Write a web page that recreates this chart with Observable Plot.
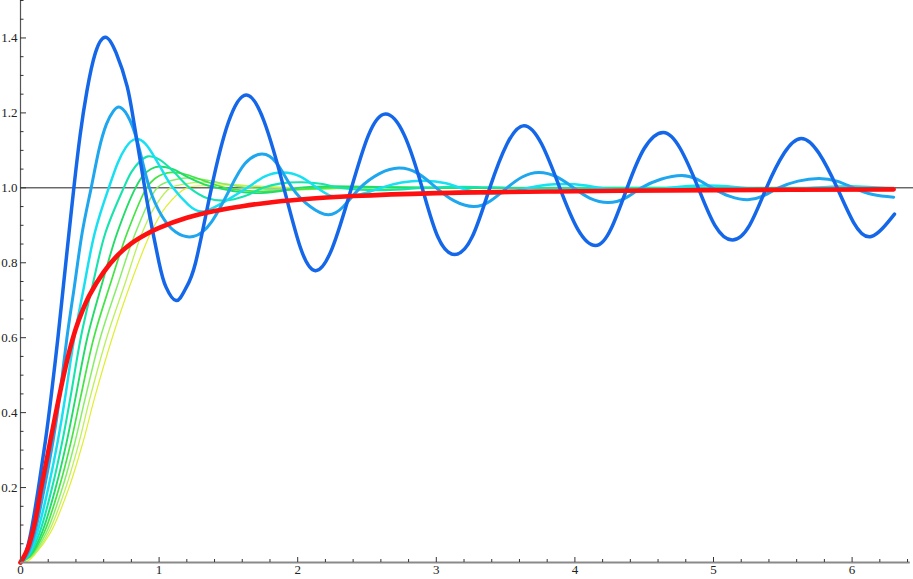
<!DOCTYPE html>
<html>
<head>
<meta charset="utf-8">
<script src="https://cdn.jsdelivr.net/npm/d3@7"></script>
<script src="https://cdn.jsdelivr.net/npm/@observablehq/plot@0.6"></script>
<style>
  html, body { margin: 0; padding: 0; background: #fff; }
  #chart { width: 913px; height: 579px; }
  #chart svg text { font-family: 'Liberation Serif', 'DejaVu Serif', serif; font-size: 13px; }
</style>
</head>
<body>
<div id="chart"></div>
<script>
// ---- Data: step responses, [t, y] pairs ----
const darkBlue = [[0,0],[0.033,0.02],[0.075,0.08],[0.13,0.2],[0.18,0.325],[0.22,0.44],[0.27,0.6],[0.31,0.74],[0.35,0.88],[0.385,1.0],[0.43,1.14],[0.48,1.26],[0.54,1.36],[0.613,1.402],[0.69,1.36],[0.77,1.27],[0.82,1.17],[0.87,1.06],[0.92,0.95],[1.0,0.8],[1.05,0.735],[1.123,0.699],[1.19,0.73],[1.263,0.8],[1.378,1.0],[1.5,1.175],[1.628,1.248],[1.76,1.175],[1.9,1.0],[2.02,0.84],[2.128,0.779],[2.25,0.84],[2.388,1.0],[2.51,1.14],[2.633,1.197],[2.77,1.14],[2.898,1.0],[3.01,0.87],[3.131,0.822],[3.26,0.87],[3.386,1.0],[3.51,1.117],[3.632,1.166],[3.76,1.117],[3.891,1.0],[4.02,0.89],[4.149,0.846],[4.26,0.89],[4.377,1.0],[4.5,1.105],[4.637,1.148],[4.76,1.105],[4.89,1.0],[5.01,0.9],[5.135,0.861],[5.26,0.9],[5.382,1.0],[5.51,1.093],[5.633,1.132],[5.76,1.093],[5.892,1.0],[6.01,0.908],[6.138,0.87],[6.306,0.93]];
const midBlue = [[0,0],[0.046,0.02],[0.103,0.08],[0.173,0.2],[0.233,0.32],[0.282,0.44],[0.335,0.6],[0.39,0.74],[0.445,0.88],[0.51,1.0],[0.565,1.1],[0.62,1.17],[0.67,1.205],[0.72,1.215],[0.79,1.18],[0.86,1.1],[0.93,1.0],[1.02,0.925],[1.12,0.882],[1.246,0.87],[1.38,0.91],[1.515,1.0],[1.62,1.065],[1.74,1.09],[1.85,1.065],[1.96,1.0],[2.09,0.95],[2.22,0.928],[2.33,0.95],[2.45,1.0],[2.59,1.038],[2.73,1.053],[2.87,1.038],[3.0,1.0],[3.13,0.965],[3.27,0.95],[3.39,0.965],[3.51,1.0],[3.62,1.029],[3.74,1.041],[3.87,1.029],[3.99,1.0],[4.11,0.972],[4.24,0.961],[4.36,0.972],[4.48,1.0],[4.62,1.023],[4.77,1.033],[4.88,1.023],[4.99,1.0],[5.12,0.977],[5.245,0.968],[5.35,0.977],[5.47,1.0],[5.61,1.018],[5.76,1.025],[5.89,1.018],[6.01,1.0],[6.15,0.982],[6.3,0.975]];
const cyan = [[0,0],[0.055,0.02],[0.121,0.08],[0.201,0.2],[0.267,0.32],[0.322,0.44],[0.388,0.6],[0.46,0.74],[0.536,0.88],[0.637,1.0],[0.7,1.065],[0.76,1.108],[0.828,1.13],[0.9,1.118],[0.97,1.08],[1.04,1.035],[1.1,1.0],[1.21,0.955],[1.323,0.937],[1.48,0.965],[1.636,1.0],[1.76,1.03],[1.89,1.041],[2.02,1.03],[2.14,1.0],[2.23,0.98],[2.32,0.975],[2.45,0.982],[2.6,1.0],[2.75,1.014],[2.91,1.019],[3.07,1.012],[3.17,1.0],[3.3,0.988],[3.42,0.985],[3.55,0.99],[3.67,1.0],[3.8,1.008],[3.93,1.01],[4.06,1.007],[4.18,1.0],[4.31,0.993],[4.44,0.991],[4.57,0.994],[4.69,1.0],[4.82,1.005],[4.95,1.006],[5.1,1.004],[5.2,1.0],[5.33,0.996],[5.46,0.995],[5.6,0.997],[5.72,1.0],[5.85,1.003],[5.98,1.004],[6.12,1.002],[6.3,0.998]];
const teal = [[0,0],[0.063,0.02],[0.138,0.08],[0.228,0.2],[0.3,0.32],[0.36,0.44],[0.435,0.6],[0.52,0.74],[0.613,0.88],[0.745,1.0],[0.8,1.042],[0.86,1.07],[0.92,1.084],[1.0,1.076],[1.1,1.045],[1.22,1.0],[1.35,0.972],[1.48,0.966],[1.62,0.978],[1.75,1.0],[1.88,1.012],[2.03,1.015],[2.18,1.01],[2.3,1.0],[2.45,0.995],[2.6,0.994],[2.75,0.996],[2.9,1.0],[3.2,1.003],[3.6,0.999],[4.2,1.0],[6.3,1.0]];
const green1 = [[0,0],[0.071,0.02],[0.155,0.08],[0.254,0.2],[0.332,0.32],[0.397,0.44],[0.482,0.6],[0.585,0.74],[0.698,0.88],[0.83,1.0],[0.89,1.035],[0.945,1.051],[1.0,1.057],[1.1,1.05],[1.2,1.03],[1.32,1.01],[1.42,1.0],[1.56,0.99],[1.7,0.986],[1.85,0.99],[2.0,1.0],[2.2,1.004],[2.5,1.003],[3.0,1.0],[6.3,1.0]];
const green2 = [[0,0],[0.078,0.02],[0.171,0.08],[0.279,0.2],[0.363,0.32],[0.433,0.44],[0.529,0.6],[0.645,0.74],[0.77,0.88],[0.91,1.0],[0.97,1.025],[1.03,1.037],[1.09,1.041],[1.2,1.035],[1.33,1.018],[1.48,1.0],[1.65,0.992],[1.8,0.991],[2.0,0.996],[2.2,1.0],[2.6,1.002],[3.2,1.0],[6.3,1.0]];
const lightGreen = [[0,0],[0.086,0.02],[0.187,0.08],[0.303,0.2],[0.392,0.32],[0.468,0.44],[0.576,0.6],[0.7,0.74],[0.83,0.88],[0.986,1.0],[1.06,1.016],[1.13,1.023],[1.2,1.026],[1.35,1.02],[1.5,1.008],[1.65,1.0],[1.85,0.995],[2.1,0.996],[2.4,1.0],[3.0,1.001],[6.3,1.0]];
const yellowGreen = [[0,0],[0.093,0.02],[0.202,0.08],[0.327,0.2],[0.422,0.32],[0.502,0.44],[0.622,0.6],[0.75,0.74],[0.878,0.88],[0.97,0.95],[1.08,1.0],[1.17,1.009],[1.25,1.014],[1.32,1.015],[1.5,1.01],[1.7,1.003],[1.9,1.0],[2.3,0.998],[3.0,1.0],[6.3,1.0]];
const yellow = [[0,0],[0.05,0.004],[0.1,0.02],[0.217,0.08],[0.35,0.2],[0.45,0.32],[0.535,0.44],[0.662,0.6],[0.79,0.74],[0.94,0.88],[1.05,0.95],[1.2,1.0],[1.35,1.006],[1.5,1.008],[1.75,1.004],[2.0,1.0],[3.0,1.0],[6.3,1.0]];
const red = [[0,0],[0.05,0.035],[0.1,0.1],[0.15,0.2],[0.2,0.295],[0.25,0.39],[0.3,0.48],[0.35,0.56],[0.4,0.625],[0.45,0.675],[0.5,0.715],[0.6,0.775],[0.7,0.82],[0.8,0.852],[0.9,0.875],[1.0,0.893],[1.2,0.92],[1.4,0.938],[1.6,0.951],[1.8,0.961],[2.0,0.968],[2.4,0.978],[3.0,0.986],[4.0,0.991],[5.0,0.994],[6.3,0.996]];

// tick values
const xLabels = [0, 1, 2, 3, 4, 5, 6];
const xMajorTicks = [1, 2, 3, 4, 5, 6];
const xMinorTicks = [0.2,0.4,0.6,0.8,1.2,1.4,1.6,1.8,2.2,2.4,2.6,2.8,3.2,3.4,3.6,3.8,4.2,4.4,4.6,4.8,5.2,5.4,5.6,5.8,6.2,6.4];
const yMajorTicks = [0.2, 0.4, 0.6, 0.8, 1.0, 1.2, 1.4];
const yMinorTicks = [0.05,0.1,0.15,0.25,0.3,0.35,0.45,0.5,0.55,0.65,0.7,0.75,0.85,0.9,0.95,1.05,1.1,1.15,1.25,1.3,1.35,1.45,1.5];
const referenceLevel = [1];

// series styling (drawn back to front)
const seriesList = [
  {data: yellow,      color: "#e0ee30", width: 1.2, curve: "catmull-rom"},
  {data: yellowGreen, color: "#bcf05a", width: 1.3, curve: "catmull-rom"},
  {data: lightGreen,  color: "#86ee66", width: 1.5, curve: "catmull-rom"},
  {data: green2,      color: "#44e444", width: 1.7, curve: "catmull-rom"},
  {data: green1,      color: "#22dc6a", width: 1.9, curve: "catmull-rom"},
  {data: teal,        color: "#16e4ae", width: 2.1, curve: "catmull-rom"},
  {data: cyan,        color: "#16e0f2", width: 2.5, curve: "natural"},
  {data: midBlue,     color: "#1ea6ee", width: 3.0, curve: "natural"},
  {data: darkBlue,    color: "#1467e8", width: 3.5, curve: "natural"},
  {data: red,         color: "#ff1010", width: 4.6, curve: "catmull-rom"}
];

const W = 913, H = 579, mL = 20, mB = 17;
const xMax = 6.443, yMax = 1.5;
const pxX = xMax / (W - mL);     // data units per pixel (x)
const pxY = yMax / (H - mB);     // data units per pixel (y)
const serif = "'Liberation Serif', 'DejaVu Serif', serif";

const marks = [
  Plot.ruleY(referenceLevel, {stroke: "#222", strokeWidth: 1})
];
for (const s of seriesList) {
  marks.push(Plot.line(s.data, {
    x: d => d[0], y: d => d[1],
    stroke: s.color, strokeWidth: s.width, curve: s.curve,
    strokeLinejoin: "round", strokeLinecap: "round"
  }));
}
marks.push(
  Plot.ruleY([0], {x1: 0, x2: 6.42, stroke: "#8a8a8a", strokeWidth: 1.8}),
  Plot.ruleX([0], {y1: 0, y2: yMax, stroke: "#555", strokeWidth: 1.2}),
  Plot.ruleX(xMajorTicks, {x: d => d, y1: 0, y2: 5 * pxY, stroke: "#333", strokeWidth: 1}),
  Plot.ruleX(xMinorTicks, {x: d => d, y1: 0, y2: 3 * pxY, stroke: "#333", strokeWidth: 1}),
  Plot.ruleY(yMajorTicks, {y: d => d, x1: 0, x2: 6 * pxX, stroke: "#333", strokeWidth: 1}),
  Plot.ruleY(yMinorTicks, {y: d => d, x1: 0, x2: 3.5 * pxX, stroke: "#333", strokeWidth: 1}),
  Plot.axisX(xLabels, {tickSize: 0, tickPadding: 2, fontFamily: serif, fontSize: 13, fill: "#222", label: null, tickFormat: d => String(d)}),
  Plot.axisY(yMajorTicks, {tickSize: 0, tickPadding: 3, fontFamily: serif, fontSize: 13, fill: "#222", label: null, tickFormat: d3.format(".1f")})
);

const chart = Plot.plot({
  width: W, height: H,
  marginLeft: mL, marginRight: 0, marginTop: 0, marginBottom: mB,
  style: {background: "#fff", overflow: "visible", fontFamily: serif, fontSize: "13px"},
  x: {domain: [0, xMax]},
  y: {domain: [0, yMax]},
  marks
});
document.getElementById("chart").appendChild(chart);
</script>
</body>
</html>
